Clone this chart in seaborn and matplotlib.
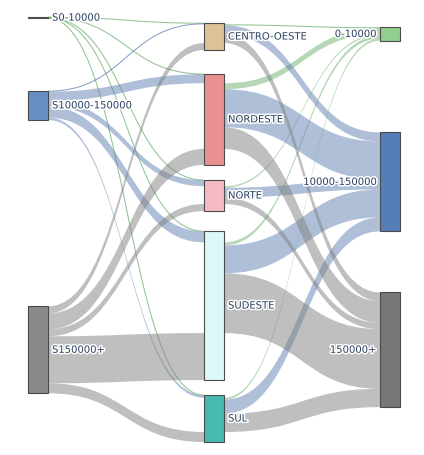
import numpy as np
import pandas as pd
import matplotlib
matplotlib.use("Agg")
import matplotlib.pyplot as plt
import seaborn as sns
from matplotlib.path import Path
from matplotlib.patches import PathPatch, Rectangle
import matplotlib.patheffects as pe

# ---------------- data ----------------
source_classes = ["S0-10000", "S10000-150000", "S150000+"]
regions = ["CENTRO-OESTE", "NORDESTE", "NORTE", "SUDESTE", "SUL"]
target_classes = ["0-10000", "10000-150000", "150000+"]

# flows: source income class -> region (one value per region)
from_s0 = [0.3, 0.3, 0.2, 0.3, 0.2]
from_s10000 = [1.0, 9.0, 6.0, 11.0, 2.5]
from_s150000 = [7.0, 16.0, 7.0, 47.0, 10.0]

# flows: region -> target income class (one value per region)
to_0 = [1.0, 6.0, 1.5, 3.0, 2.0]
to_10000 = [9.0, 38.0, 10.0, 28.0, 14.0]
to_150000 = [8.7, 21.7, 6.3, 59.7, 18.3]

# ---------------- styles / layout ----------------
node_colors = {
    "S0-10000": "#8ccd88", "S10000-150000": "#6088c0", "S150000+": "#848484",
    "CENTRO-OESTE": "#dcbf8f", "NORDESTE": "#e88a8a", "NORTE": "#f4b8c4",
    "SUDESTE": "#dcf8f8", "SUL": "#3db5ad",
    "0-10000": "#8ccd88", "10000-150000": "#4c77b5", "150000+": "#707070",
}
link_colors = {
    "0-10000": (0.43, 0.69, 0.43, 0.5),
    "10000-150000": (0.38, 0.50, 0.70, 0.5),
    "150000+": (0.50, 0.50, 0.50, 0.5),
}
class_key = dict(zip(source_classes, target_classes))

# plotly-like relative node placement (x column fraction, y center fraction)
node_x = {n: 0.0 for n in source_classes}
node_x.update({n: 0.5 for n in regions})
node_x.update({n: 1.0 for n in target_classes})
node_y = {"S0-10000": 0.0, "S10000-150000": 0.208, "S150000+": 0.783,
          "CENTRO-OESTE": 0.046, "NORDESTE": 0.241, "NORTE": 0.42,
          "SUDESTE": 0.679, "SUL": 0.945,
          "0-10000": 0.04, "10000-150000": 0.388, "150000+": 0.783}

FIG_W, FIG_H = 424, 455
DOM_X = (28, 400)
DOM_Y = (17, 442)
NODE_W = 20
PAD = 20

# ---------------- links table ----------------
rows = []
for s, vals in zip(source_classes, [from_s0, from_s10000, from_s150000]):
    for r, v in zip(regions, vals):
        rows.append(dict(source=s, target=r, value=v, cls=class_key[s]))
for t, vals in zip(target_classes, [to_0, to_10000, to_150000]):
    for r, v in zip(regions, vals):
        rows.append(dict(source=r, target=t, value=v, cls=t))
links = pd.DataFrame(rows)

in_tot = links.groupby("target")["value"].sum()
out_tot = links.groupby("source")["value"].sum()
node_val = {}
for n in source_classes:
    node_val[n] = out_tot[n]
for n in target_classes:
    node_val[n] = in_tot[n]
for n in regions:
    node_val[n] = in_tot[n] + out_tot[n]

dom_h = DOM_Y[1] - DOM_Y[0]
ky = (dom_h - PAD * (len(regions) - 1)) / sum(node_val[r] for r in regions)

node_top, node_h, node_left = {}, {}, {}
for n, v in node_val.items():
    h = v * ky
    c = DOM_Y[0] + node_y[n] * dom_h
    top = min(max(c - h / 2, DOM_Y[0]), DOM_Y[1] - h)
    node_top[n], node_h[n] = top, h
    node_left[n] = DOM_X[0] + node_x[n] * (DOM_X[1] - DOM_X[0] - NODE_W)

# link end positions
src_y, tgt_y = {}, {}
for s in source_classes:
    y = node_top[s]
    for r in regions:
        v = links[(links.source == s) & (links.target == r)].value.iloc[0] * ky
        src_y[(s, r)] = (y, y + v)
        y += v
for t in target_classes:
    y = node_top[t]
    for r in regions:
        v = links[(links.source == r) & (links.target == t)].value.iloc[0] * ky
        tgt_y[(r, t)] = (y, y + v)
        y += v
# region stack: small-class inflows, outflows, then top-class inflow
for r in regions:
    y = node_top[r]
    order = [("in", source_classes[0]), ("in", source_classes[1])] + \
            [("out", t) for t in target_classes] + [("in", source_classes[2])]
    for kind, other in order:
        if kind == "in":
            v = links[(links.source == other) & (links.target == r)].value.iloc[0] * ky
            tgt_y[(other, r)] = (y, y + v)
        else:
            v = links[(links.source == r) & (links.target == other)].value.iloc[0] * ky
            src_y[(r, other)] = (y, y + v)
        y += v

# ---------------- drawing ----------------
sns.set_theme(style="white")
fig = plt.figure(figsize=(FIG_W / 100, FIG_H / 100), dpi=100)
ax = fig.add_axes([0, 0, 1, 1])
ax.set_xlim(0, FIG_W)
ax.set_ylim(FIG_H, 0)
ax.axis("off")

for _, L in links.iterrows():
    s, t = L.source, L.target
    xa = node_left[s] + NODE_W
    xb = node_left[t]
    xm = (xa + xb) / 2
    a0, a1 = src_y[(s, t)]
    b0, b1 = tgt_y[(s, t)]
    col = link_colors[L.cls]
    if a1 - a0 < 1.2:
        ya, yb = (a0 + a1) / 2, (b0 + b1) / 2
        p = Path([(xa, ya), (xm, ya), (xm, yb), (xb, yb)],
                 [Path.MOVETO, Path.CURVE4, Path.CURVE4, Path.CURVE4])
        ax.add_patch(PathPatch(p, fill=False, edgecolor=col[:3] + (0.75,), lw=0.75, zorder=2))
    else:
        verts = [(xa, a0), (xm, a0), (xm, b0), (xb, b0), (xb, b1),
                 (xm, b1), (xm, a1), (xa, a1), (xa, a0)]
        codes = [Path.MOVETO, Path.CURVE4, Path.CURVE4, Path.CURVE4, Path.LINETO,
                 Path.CURVE4, Path.CURVE4, Path.CURVE4, Path.CLOSEPOLY]
        ax.add_patch(PathPatch(Path(verts, codes), facecolor=col, edgecolor="none", zorder=2))

for n in node_val:
    ax.add_patch(Rectangle((node_left[n], node_top[n]), NODE_W, max(node_h[n], 0.6),
                           facecolor=node_colors[n], edgecolor="#444444",
                           lw=0.8, alpha=0.95, zorder=3))

halo = [pe.withStroke(linewidth=2.2, foreground="white")]
for n in node_val:
    cy = node_top[n] + node_h[n] / 2
    if node_x[n] < 1.0:
        ax.text(node_left[n] + NODE_W + 4, cy, n, ha="left", va="center",
                fontsize=7.2, color="#2a3f5f", family="DejaVu Sans",
                path_effects=halo, zorder=4)
    else:
        ax.text(node_left[n] - 4, cy, n, ha="right", va="center",
                fontsize=7.2, color="#2a3f5f", family="DejaVu Sans",
                path_effects=halo, zorder=4)

fig.savefig("out.png", dpi=100, facecolor="white")
